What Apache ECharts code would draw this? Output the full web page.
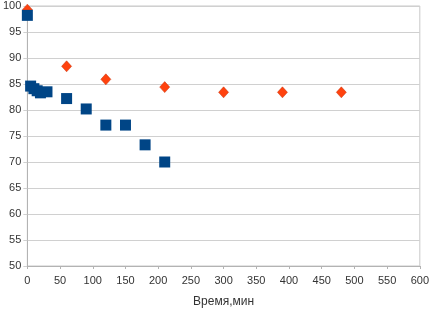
<!DOCTYPE html>
<html>
<head>
<meta charset="utf-8">
<script src="https://cdn.jsdelivr.net/npm/echarts@6/dist/echarts.min.js"></script>
<style>
html, body { margin: 0; padding: 0; background: #fff; }
#chart { width: 432px; height: 313px; }
</style>
</head>
<body>
<div id="chart"></div>
<script>
// blue series (squares)
let blueTime = [0, 5, 10, 15, 20, 30, 60, 90, 120, 150, 180, 210];
let blueValue = [98.2, 84.6, 84.1, 83.7, 83.3, 83.5, 82.2, 80.2, 77.1, 77.1, 73.3, 70.0];
// red series (diamonds)
let redTime = [0, 60, 120, 210, 300, 390, 480];
let redValue = [99.3, 88.4, 85.9, 84.4, 83.4, 83.4, 83.4];

let xName = "Время,мин";

function pairs(xs, ys)
{
    let out = [];
    for (let i = 0; i < xs.length; i++)
    {
        out.push([xs[i], ys[i]]);
    }
    return out;
}

var myChart = echarts.init(document.getElementById("chart"));

let axisLabelStyle = {
    color: '#333',
    fontSize: 11,
    fontFamily: 'Liberation Sans'
};

let option = {
    animation: false,
    grid: {
        left: 27,
        right: 9,
        top: 6,
        bottom: 47,
        show: true,
        borderColor: '#c8c8c8',
        borderWidth: 1
    },
    xAxis: {
        type: 'value',
        min: 0,
        max: 600,
        interval: 50,
        name: xName,
        nameLocation: 'middle',
        nameGap: 30,
        nameTextStyle: {
            color: '#333',
            fontSize: 12,
            fontFamily: 'Liberation Sans'
        },
        axisLine: { show: true, lineStyle: { color: '#b3b3b3' } },
        axisTick: { show: true, length: 3, lineStyle: { color: '#b3b3b3' } },
        axisLabel: Object.assign({ margin: 9 }, axisLabelStyle),
        splitLine: { show: false }
    },
    yAxis: {
        type: 'value',
        min: 50,
        max: 100,
        interval: 5,
        axisLine: { show: true, lineStyle: { color: '#b3b3b3' } },
        axisTick: { show: true, length: 4, lineStyle: { color: '#d0d0d0' } },
        axisLabel: Object.assign({ margin: 6 }, axisLabelStyle),
        splitLine: { show: true, lineStyle: { color: '#d0d0d0' } }
    },
    series: [
        {
            type: 'scatter',
            symbol: 'diamond',
            symbolSize: [10, 11],
            itemStyle: { color: '#ff420e', borderColor: '#c5300a', borderWidth: 0.5, opacity: 1 },
            data: pairs(redTime, redValue),
            z: 2
        },
        {
            type: 'scatter',
            symbol: 'rect',
            symbolSize: 11,
            itemStyle: { color: '#004586', opacity: 1 },
            data: pairs(blueTime, blueValue),
            z: 3
        }
    ]
};

myChart.setOption(option);
</script>
</body>
</html>
